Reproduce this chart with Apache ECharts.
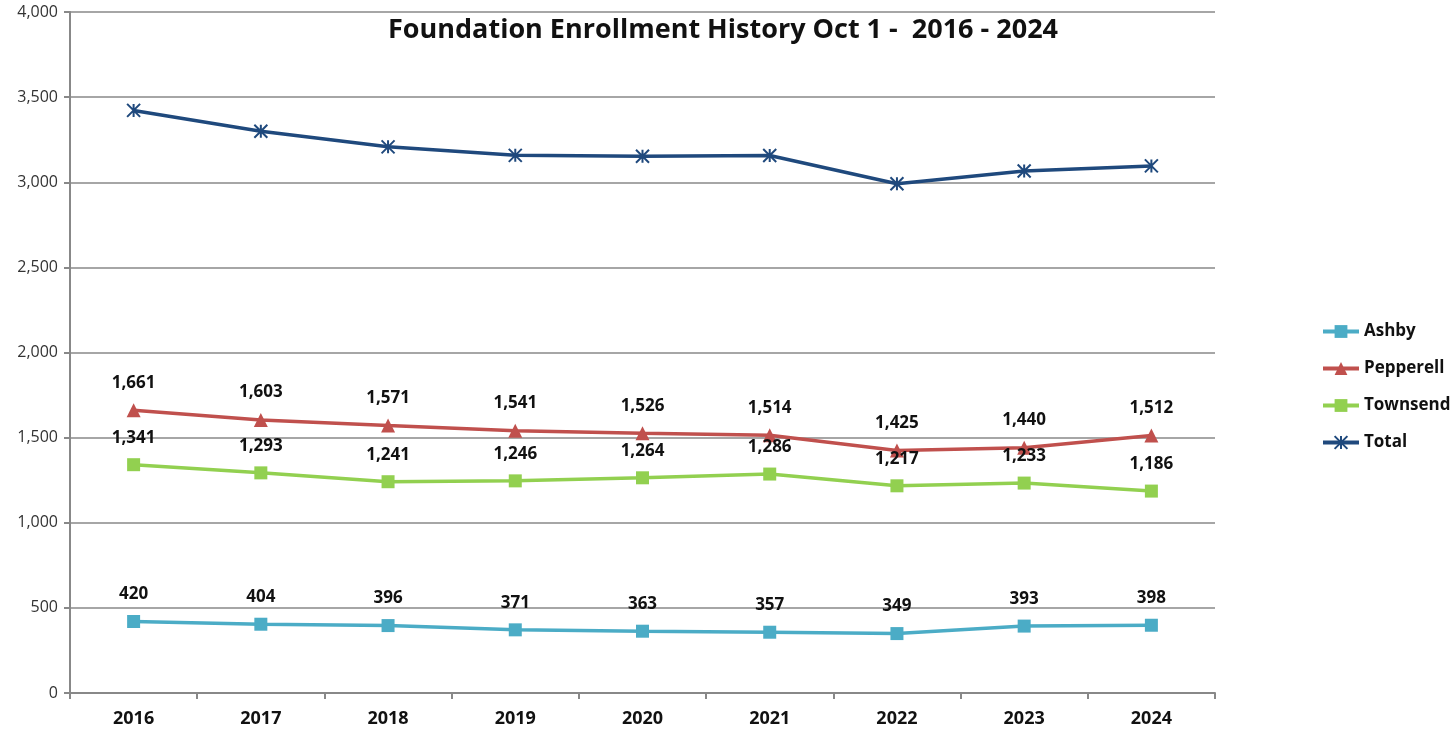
<!DOCTYPE html>
<html>
<head>
<meta charset="utf-8">
<script src="https://cdn.jsdelivr.net/npm/echarts@6/dist/echarts.min.js"></script>
<style>
  html, body { margin: 0; padding: 0; background: #fff; }
  #chart { width: 1456px; height: 732px; }
</style>
</head>
<body>
<div id="chart"></div>
<script>
// data
const years = ['2016', '2017', '2018', '2019', '2020', '2021', '2022', '2023', '2024'];
const ashby = [420, 404, 396, 371, 363, 357, 349, 393, 398];
const pepperell = [1661, 1603, 1571, 1541, 1526, 1514, 1425, 1440, 1512];
const townsend = [1341, 1293, 1241, 1246, 1264, 1286, 1217, 1233, 1186];
const total = [3422, 3300, 3208, 3158, 3153, 3157, 2991, 3066, 3096];

const font = '"Open Sans", "Liberation Sans", sans-serif';
const asterisk = 'path://M0 0L10 10M10 0L0 10M5 0L5 10';

const fmt = v => v.toLocaleString('en-US');

const labelStyle = {
    show: true,
    position: 'top',
    distance: 12,
    fontFamily: font,
    fontSize: 17,
    fontWeight: 'bold',
    color: '#111',
    formatter: p => fmt(p.value)
};

function lineSeries(name, data, color, symbol, size, withLabel) {
    return {
        name: name,
        type: 'line',
        data: data,
        symbol: symbol,
        symbolSize: size,
        showAllSymbol: true,
        lineStyle: {color: color, width: 3.5},
        itemStyle: {color: color},
        label: withLabel ? labelStyle : {show: false},
        emphasis: {disabled: true},
        animation: false
    };
}

const chart = echarts.init(document.getElementById('chart'));

const totalSeries = lineSeries('Total', total, '#1f497d', asterisk, 13, false);
totalSeries.itemStyle = {color: 'rgba(0,0,0,0)', borderColor: '#1f497d', borderWidth: 2};

chart.setOption({
    animation: false,
    title: {
        text: 'Foundation Enrollment History Oct 1 -  2016 - 2024',
        left: 383,
        top: 12,
        textStyle: {fontFamily: font, fontSize: 27, fontWeight: 'bold', color: '#111'}
    },
    legend: {
        orient: 'vertical',
        left: 1316,
        top: 318,
        itemGap: 20,
        itemWidth: 36,
        itemHeight: 16,
        lineStyle: {width: 4},
        textStyle: {fontFamily: font, fontSize: 17, fontWeight: 'bold', color: '#111'},
        data: [
            {name: 'Ashby'},
            {name: 'Pepperell'},
            {name: 'Townsend'},
            {name: 'Total', itemStyle: {color: 'rgba(0,0,0,0)', borderColor: '#1f497d', borderWidth: 2}}
        ]
    },
    grid: {left: 70, right: 241, top: 12, bottom: 39},
    xAxis: {
        type: 'category',
        data: years,
        boundaryGap: true,
        axisLine: {lineStyle: {color: '#888', width: 2}},
        axisTick: {show: true, length: 6, lineStyle: {color: '#888', width: 2}},
        axisLabel: {fontFamily: font, fontSize: 18, fontWeight: 'bold', color: '#111', margin: 17}
    },
    yAxis: {
        type: 'value',
        min: 0,
        max: 4000,
        interval: 500,
        axisLine: {show: true, lineStyle: {color: '#888', width: 2}},
        axisTick: {show: true, length: 6, lineStyle: {color: '#888', width: 2}},
        splitLine: {lineStyle: {color: '#888', width: 1.5}},
        axisLabel: {fontFamily: font, fontSize: 16, color: '#333', margin: 12, formatter: v => fmt(v)}
    },
    series: [
        lineSeries('Ashby', ashby, '#4bacc6', 'rect', 13, true),
        lineSeries('Pepperell', pepperell, '#c0504d', 'triangle', 14, true),
        lineSeries('Townsend', townsend, '#92d050', 'rect', 13, true),
        totalSeries
    ]
});
</script>
</body>
</html>
